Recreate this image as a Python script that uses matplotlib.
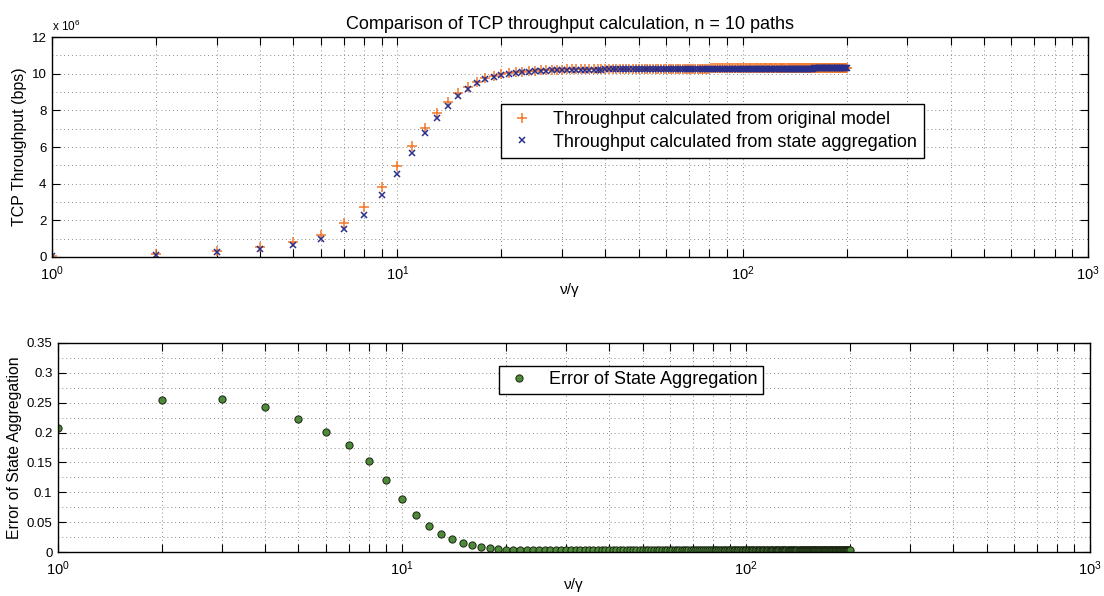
import numpy as np
import matplotlib
matplotlib.use("Agg")
import matplotlib.pyplot as plt
from matplotlib.ticker import LogLocator, MultipleLocator, NullFormatter, FuncFormatter

plt.rcParams['font.family'] = ['Liberation Sans', 'DejaVu Sans']
plt.rcParams['mathtext.fontset'] = 'custom'
plt.rcParams['mathtext.rm'] = 'Liberation Sans'
plt.rcParams['mathtext.it'] = 'Liberation Sans:italic'

# ---------------- data ----------------
nu_over_gamma = np.arange(1, 201)  # x = 1, 2, ..., 200

# TCP throughput, original model (units of 1e6 bps)
throughput_original = [
    0.05, 0.15, 0.33, 0.55, 0.82, 1.22, 1.85, 2.72, 3.82, 4.97, 6.08, 7.05, 7.85, 8.45, 8.93, 9.27, 9.55, 9.75, 9.88, 9.98,
    10.04, 10.08, 10.12, 10.15, 10.17, 10.19, 10.20, 10.21, 10.22, 10.23, 10.24, 10.24, 10.25, 10.25, 10.25, 10.26, 10.26, 10.26, 10.26, 10.27,
    10.27, 10.27, 10.27, 10.27, 10.27, 10.27, 10.27, 10.27, 10.27, 10.27, 10.27, 10.27, 10.28, 10.28, 10.28, 10.28, 10.28, 10.28, 10.28, 10.28,
    10.28, 10.28, 10.28, 10.28, 10.28, 10.28, 10.28, 10.28, 10.28, 10.28, 10.28, 10.28, 10.28, 10.28, 10.28, 10.28, 10.28, 10.28, 10.28, 10.28,
    10.29, 10.29, 10.29, 10.29, 10.29, 10.29, 10.29, 10.29, 10.29, 10.29, 10.29, 10.29, 10.29, 10.29, 10.29, 10.29, 10.29, 10.29, 10.29, 10.29,
    10.30, 10.30, 10.30, 10.30, 10.30, 10.30, 10.30, 10.30, 10.30, 10.30, 10.30, 10.30, 10.30, 10.30, 10.30, 10.30, 10.30, 10.30, 10.30, 10.30,
    10.30, 10.30, 10.30, 10.30, 10.30, 10.30, 10.30, 10.30, 10.30, 10.30, 10.31, 10.31, 10.31, 10.31, 10.31, 10.31, 10.31, 10.31, 10.31, 10.31,
    10.31, 10.31, 10.31, 10.31, 10.31, 10.31, 10.31, 10.31, 10.31, 10.31, 10.31, 10.31, 10.31, 10.31, 10.31, 10.31, 10.31, 10.31, 10.31, 10.31,
    10.32, 10.32, 10.32, 10.32, 10.32, 10.32, 10.32, 10.32, 10.32, 10.32, 10.32, 10.32, 10.32, 10.32, 10.32, 10.32, 10.32, 10.32, 10.32, 10.32,
    10.32, 10.32, 10.32, 10.32, 10.32, 10.32, 10.32, 10.32, 10.32, 10.32, 10.33, 10.33, 10.33, 10.33, 10.33, 10.33, 10.33, 10.33, 10.33, 10.33,
]

# TCP throughput, state aggregation (units of 1e6 bps)
throughput_aggregation = [
    0.04, 0.11, 0.25, 0.42, 0.64, 0.97, 1.52, 2.30, 3.36, 4.53, 5.70, 6.74, 7.61, 8.26, 8.80, 9.17, 9.47, 9.69, 9.83, 9.94,
    10.00, 10.05, 10.09, 10.12, 10.14, 10.16, 10.17, 10.18, 10.19, 10.20, 10.21, 10.21, 10.22, 10.22, 10.22, 10.23, 10.23, 10.23, 10.23, 10.24,
    10.24, 10.24, 10.24, 10.24, 10.24, 10.24, 10.24, 10.24, 10.24, 10.24, 10.24, 10.24, 10.25, 10.25, 10.25, 10.25, 10.25, 10.25, 10.25, 10.25,
    10.25, 10.25, 10.25, 10.25, 10.25, 10.25, 10.25, 10.25, 10.25, 10.25, 10.25, 10.25, 10.25, 10.25, 10.25, 10.25, 10.25, 10.25, 10.25, 10.25,
    10.26, 10.26, 10.26, 10.26, 10.26, 10.26, 10.26, 10.26, 10.26, 10.26, 10.26, 10.26, 10.26, 10.26, 10.26, 10.26, 10.26, 10.26, 10.26, 10.26,
    10.27, 10.27, 10.27, 10.27, 10.27, 10.27, 10.27, 10.27, 10.27, 10.27, 10.27, 10.27, 10.27, 10.27, 10.27, 10.27, 10.27, 10.27, 10.27, 10.27,
    10.27, 10.27, 10.27, 10.27, 10.27, 10.27, 10.27, 10.27, 10.27, 10.27, 10.28, 10.28, 10.28, 10.28, 10.28, 10.28, 10.28, 10.28, 10.28, 10.28,
    10.28, 10.28, 10.28, 10.28, 10.28, 10.28, 10.28, 10.28, 10.28, 10.28, 10.28, 10.28, 10.28, 10.28, 10.28, 10.28, 10.28, 10.28, 10.28, 10.28,
    10.29, 10.29, 10.29, 10.29, 10.29, 10.29, 10.29, 10.29, 10.29, 10.29, 10.29, 10.29, 10.29, 10.29, 10.29, 10.29, 10.29, 10.29, 10.29, 10.29,
    10.29, 10.29, 10.29, 10.29, 10.29, 10.29, 10.29, 10.29, 10.29, 10.29, 10.30, 10.30, 10.30, 10.30, 10.30, 10.30, 10.30, 10.30, 10.30, 10.30,
]

# Relative error of state aggregation
aggregation_error = [
    0.207, 0.254, 0.256, 0.243, 0.223, 0.201, 0.179, 0.153, 0.121, 0.089, 0.062, 0.044, 0.031, 0.022, 0.015, 0.011, 0.008, 0.006, 0.005, 0.004,
    0.0035, 0.003, 0.003, 0.003, 0.003, 0.003, 0.003, 0.003, 0.003, 0.003, 0.003, 0.003, 0.003, 0.003, 0.003, 0.003, 0.003, 0.003, 0.003, 0.003,
    0.003, 0.003, 0.003, 0.003, 0.003, 0.003, 0.003, 0.003, 0.003, 0.003, 0.003, 0.003, 0.003, 0.003, 0.003, 0.003, 0.003, 0.003, 0.003, 0.003,
    0.003, 0.003, 0.003, 0.003, 0.003, 0.003, 0.003, 0.003, 0.003, 0.003, 0.003, 0.003, 0.003, 0.003, 0.003, 0.003, 0.003, 0.003, 0.003, 0.003,
    0.003, 0.003, 0.003, 0.003, 0.003, 0.003, 0.003, 0.003, 0.003, 0.003, 0.003, 0.003, 0.003, 0.003, 0.003, 0.003, 0.003, 0.003, 0.003, 0.003,
    0.0029, 0.0029, 0.0029, 0.0029, 0.0029, 0.0029, 0.0029, 0.0029, 0.0029, 0.0029, 0.0029, 0.0029, 0.0029, 0.0029, 0.0029, 0.0029, 0.0029, 0.0029, 0.0029, 0.0029,
    0.0029, 0.0029, 0.0029, 0.0029, 0.0029, 0.0029, 0.0029, 0.0029, 0.0029, 0.0029, 0.0029, 0.0029, 0.0029, 0.0029, 0.0029, 0.0029, 0.0029, 0.0029, 0.0029, 0.0029,
    0.0029, 0.0029, 0.0029, 0.0029, 0.0029, 0.0029, 0.0029, 0.0029, 0.0029, 0.0029, 0.0029, 0.0029, 0.0029, 0.0029, 0.0029, 0.0029, 0.0029, 0.0029, 0.0029, 0.0029,
    0.0029, 0.0029, 0.0029, 0.0029, 0.0029, 0.0029, 0.0029, 0.0029, 0.0029, 0.0029, 0.0029, 0.0029, 0.0029, 0.0029, 0.0029, 0.0029, 0.0029, 0.0029, 0.0029, 0.0029,
    0.0029, 0.0029, 0.0029, 0.0029, 0.0029, 0.0029, 0.0029, 0.0029, 0.0029, 0.0029, 0.0029, 0.0029, 0.0029, 0.0029, 0.0029, 0.0029, 0.0029, 0.0029, 0.0029, 0.0029,
]

title_text = "Comparison of TCP throughput calculation, n = 10 paths"
xlabel_text = "\u03bd/\u03b3"
label_orig = "Throughput calculated from original model"
label_agg = "Throughput calculated from state aggregation"
label_err = "Error of State Aggregation"

# ---------------- figure ----------------
fig = plt.figure(figsize=(11.04, 5.96), dpi=100)
ax1 = fig.add_axes([0.0471, 0.5688, 0.9384, 0.369])
ax2 = fig.add_axes([0.0525, 0.0738, 0.935, 0.3507])

grid_kw = dict(color='#8a8a8a', linestyle=(0, (1, 3)), linewidth=0.7)


def style_axis(ax):
    ax.set_xscale('log')
    ax.set_xlim(1, 1000)
    ax.xaxis.set_major_locator(LogLocator(base=10, numticks=10))
    ax.xaxis.set_minor_locator(LogLocator(base=10, subs=np.arange(2, 10), numticks=10))
    ax.xaxis.set_minor_formatter(NullFormatter())
    ax.tick_params(which='both', direction='in', top=True, right=True,
                   width=0.8, colors='black')
    ax.tick_params(axis='x', labelsize=10.5)
    ax.tick_params(axis='y', labelsize=9.5)
    ax.tick_params(which='major', length=6)
    ax.tick_params(which='minor', axis='x', length=6)
    ax.tick_params(which='minor', axis='y', length=0)
    ax.tick_params(axis='x', which='major', pad=5)
    ax.tick_params(axis='y', which='major', pad=4)
    ax.grid(True, which='both', **grid_kw)
    for s in ax.spines.values():
        s.set_linewidth(1.0)
        s.set_color('black')
    ax.set_axisbelow(True)


def plain_fmt(v, pos):
    return '0' if abs(v) < 1e-12 else f'{v:g}'


# --- top panel ---
style_axis(ax1)
ax1.plot(nu_over_gamma, throughput_original, linestyle='none', marker='+',
         markersize=7, markeredgewidth=1.1, color='#f2782a', label=label_orig)
ax1.plot(nu_over_gamma, throughput_aggregation, linestyle='none', marker='x',
         markersize=5, markeredgewidth=1.1, color='#2b2f8c', label=label_agg)
ax1.set_ylim(0, 12)
ax1.yaxis.set_major_locator(MultipleLocator(2))
ax1.yaxis.set_minor_locator(MultipleLocator(1))
ax1.yaxis.set_major_formatter(FuncFormatter(plain_fmt))
ax1.set_title(title_text, fontsize=13, pad=6)
ax1.set_ylabel("TCP Throughput (bps)", fontsize=11.5, labelpad=3)
ax1.set_xlabel(xlabel_text, fontsize=11, labelpad=0)
ax1.text(0.0, 1.012, r"x 10$^{6}$", transform=ax1.transAxes, fontsize=8.5,
         ha='left', va='bottom')
leg1 = ax1.legend(loc='upper left', bbox_to_anchor=(0.433, 0.695), borderaxespad=0,
                  fontsize=13, frameon=True, fancybox=False, framealpha=1,
                  edgecolor='black', handlelength=1.6, handletextpad=0.9,
                  borderpad=0.4, labelspacing=0.3)
leg1.get_frame().set_linewidth(1.0)

# --- bottom panel ---
style_axis(ax2)
ax2.plot(nu_over_gamma, aggregation_error, linestyle='none', marker='o',
         markersize=5.2, markerfacecolor='#4d8a3a', markeredgecolor='#1a2412',
         markeredgewidth=0.7, label=label_err)
ax2.set_ylim(0, 0.35)
ax2.yaxis.set_major_locator(MultipleLocator(0.05))
ax2.yaxis.set_minor_locator(MultipleLocator(0.025))
ax2.yaxis.set_major_formatter(FuncFormatter(plain_fmt))
ax2.set_ylabel(label_err, fontsize=11.3, labelpad=3)
ax2.set_xlabel(xlabel_text, fontsize=11, labelpad=0)
leg2 = ax2.legend(loc='upper left', bbox_to_anchor=(0.427, 0.89), borderaxespad=0,
                  fontsize=13, frameon=True, fancybox=False, framealpha=1,
                  edgecolor='black', handlelength=1.6, handletextpad=0.9,
                  borderpad=0.3)
leg2.get_frame().set_linewidth(1.0)

fig.savefig("out.png", dpi=100)
